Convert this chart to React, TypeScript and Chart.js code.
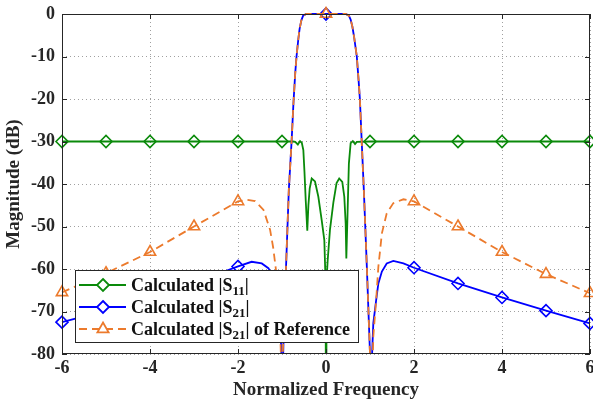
import React, { useEffect, useRef } from "react";
import { Chart, registerables } from "chart.js";
Chart.register(...registerables);

// ---- Data ----
const xTickValues = [-6, -4, -2, 0, 2, 4, 6];
const yTickValues = [-80, -70, -60, -50, -40, -30, -20, -10, 0];

const s11X = [-6, -5, -4, -3, -2, -1, -0.75, -0.7, -0.64, -0.59, -0.55, -0.515, -0.49, -0.46, -0.425, -0.4, -0.37, -0.325, -0.25, -0.174, -0.098, -0.038, -0.01, 0, 0.01, 0.038, 0.09, 0.167, 0.24, 0.3, 0.37, 0.416, 0.447, 0.462, 0.49, 0.52, 0.56, 0.61, 0.66, 0.7, 1, 2, 3, 4, 5, 6];
const s11Y = [-30, -30, -30, -30, -30, -30, -30, -30.1, -30.7, -29.9, -30.3, -32, -37, -44, -51, -45, -41, -38.7, -39.4, -43, -48.5, -53.2, -63, -100, -63, -58, -50.8, -44.4, -39.8, -38.7, -39.5, -43, -49.3, -57.5, -46.9, -35.2, -30.4, -29.9, -30.6, -30.1, -30, -30, -30, -30, -30, -30];

const s21X = [-6, -5, -4, -3, -2, -1.69, -1.46, -1.31, -1.21, -1.14, -1.08, -1.03, -1.0, -0.99, -0.98, -0.955, -0.91, -0.845, -0.78, -0.74, -0.7, -0.67, -0.63, -0.6, -0.56, -0.52, -0.45, -0.3, 0, 0.3, 0.45, 0.52, 0.56, 0.6, 0.64, 0.7, 0.74, 0.77, 0.81, 0.86, 0.93, 0.975, 1.0, 1.02, 1.04, 1.075, 1.14, 1.19, 1.27, 1.38, 1.53, 1.76, 2, 3, 4, 5, 6];
const s21Y = [-72.5, -69.8, -66.7, -63.3, -59.4, -58.3, -58.7, -59.8, -61.5, -64, -68, -75, -85, -100, -85, -72.8, -60, -41.4, -29.6, -21, -14, -10, -6, -3.5, -1.5, -0.4, 0, 0, 0, 0, 0, -0.4, -1.3, -3, -5.5, -10, -15.5, -20, -29.6, -41.4, -60, -72.8, -80, -100, -82, -72.8, -67.3, -63.4, -60.6, -58.7, -58.1, -58.7, -59.7, -63.4, -66.7, -69.8, -72.8];

const refX = [-6, -5, -4, -3, -2, -1.8, -1.61, -1.42, -1.27, -1.2, -1.14, -1.09, -1.05, -1.02, -1.005, -0.99, -0.975, -0.955, -0.91, -0.845, -0.78, -0.74, -0.7, -0.67, -0.63, -0.6, -0.56, -0.52, -0.45, -0.3, 0, 0.3, 0.45, 0.52, 0.56, 0.6, 0.64, 0.7, 0.74, 0.77, 0.81, 0.86, 0.93, 0.975, 1.0, 1.02, 1.04, 1.06, 1.075, 1.14, 1.19, 1.27, 1.38, 1.53, 1.76, 2, 3, 4, 5, 6];
const refY = [-65.5, -61, -56, -50, -44.1, -43.7, -44, -46.1, -50.8, -55, -60, -65, -72, -82, -100, -84, -78, -72.8, -60, -41.4, -29.6, -21, -14, -10, -6, -3.5, -1.5, -0.4, 0, 0, 0, 0, 0, -0.4, -1.3, -3, -5.5, -10, -15.5, -20, -29.6, -41.4, -60, -72.8, -80, -86, -100, -82, -75.9, -67.3, -59.5, -51.6, -46.9, -44.5, -43.6, -44.1, -50, -56, -61.2, -65.7];

const seriesNames = ["Calculated |S", "Calculated |S", "Calculated |S"];
const seriesSubs = ["11", "21", "21"];
const seriesTails = ["|", "|", "| of Reference"];
const xTitle = "Normalized Frequency";
const yTitle = "Magnitude (dB)";

const GREEN = "#0a8a0a";
const BLUE = "#0000ff";
const ORANGE = "#ec7a2c";
const TEXT = "#262626";
const FONT = "'Liberation Serif', 'Times New Roman', serif";

function pts(xs: number[], ys: number[]) {
  return xs.map((x, i) => ({ x, y: ys[i] }));
}

const markerRadius = (r: number) => (ctx: any) => {
  const p = ctx.raw;
  if (!p) return 0;
  return Number.isInteger(p.x) && p.y > -79 ? r : 0;
};

const zeroPad = (s: any) => {
  s.paddingLeft = 0;
  s.paddingRight = 0;
  s.paddingTop = 0;
  s.paddingBottom = 0;
};

const CLIP = { left: 8, right: 8, top: 10, bottom: 0 };

const framePlugin = {
  id: "frame",
  afterDatasetsDraw(chart: any) {
    const { ctx, chartArea: a, scales } = chart;
    ctx.save();
    ctx.strokeStyle = TEXT;
    ctx.lineWidth = 1;
    ctx.setLineDash([]);
    ctx.strokeRect(a.left + 0.5, a.top + 0.5, a.right - a.left - 1, a.bottom - a.top - 1);
    const tl = 5;
    ctx.beginPath();
    xTickValues.forEach((v) => {
      const px = Math.round(scales.x.getPixelForValue(v)) + 0.5;
      ctx.moveTo(px, a.bottom);
      ctx.lineTo(px, a.bottom - tl);
      ctx.moveTo(px, a.top);
      ctx.lineTo(px, a.top + tl);
    });
    yTickValues.forEach((v) => {
      const py = Math.round(scales.y.getPixelForValue(v)) + 0.5;
      ctx.moveTo(a.left, py);
      ctx.lineTo(a.left + tl, py);
      ctx.moveTo(a.right, py);
      ctx.lineTo(a.right - tl, py);
    });
    ctx.stroke();
    ctx.restore();
  },
  afterDraw(chart: any) {
    const { ctx, chartArea: a } = chart;
    ctx.save();
    // axis titles
    ctx.fillStyle = TEXT;
    ctx.font = `bold 19px ${FONT}`;
    ctx.textAlign = "center";
    ctx.textBaseline = "middle";
    ctx.fillText(xTitle, (a.left + a.right) / 2, 390);
    ctx.translate(14, (a.top + a.bottom) / 2);
    ctx.rotate(-Math.PI / 2);
    ctx.fillText(yTitle, 0, 0);
    ctx.restore();

    // legend
    ctx.save();
    const bx = 75, by = 270, bw = 283, bh = 72;
    ctx.fillStyle = "#ffffff";
    ctx.fillRect(bx, by, bw, bh);
    ctx.strokeStyle = TEXT;
    ctx.lineWidth = 1;
    ctx.strokeRect(bx + 0.5, by + 0.5, bw, bh);
    const rows = [285, 307, 329];
    const colors = [GREEN, BLUE, ORANGE];
    rows.forEach((ry, i) => {
      ctx.strokeStyle = colors[i];
      ctx.lineWidth = 2;
      ctx.setLineDash(i === 2 ? [8, 5] : []);
      ctx.beginPath();
      ctx.moveTo(79, ry);
      ctx.lineTo(126, ry);
      ctx.stroke();
      ctx.setLineDash([]);
      ctx.lineWidth = 1.8;
      ctx.beginPath();
      if (i < 2) {
        ctx.moveTo(103, ry - 6);
        ctx.lineTo(109, ry);
        ctx.lineTo(103, ry + 6);
        ctx.lineTo(97, ry);
        ctx.closePath();
        ctx.fillStyle = "#ffffff";
        ctx.fill();
      } else {
        ctx.moveTo(103, ry - 6.5);
        ctx.lineTo(108.6, ry + 3.3);
        ctx.lineTo(97.4, ry + 3.3);
        ctx.closePath();
        ctx.fillStyle = "#ffffff";
        ctx.fill();
      }
      ctx.stroke();
      // text with subscript
      ctx.fillStyle = "#111";
      ctx.textAlign = "left";
      ctx.textBaseline = "alphabetic";
      let tx = 131;
      const base = ry + 6;
      ctx.font = `bold 18px ${FONT}`;
      ctx.fillText(seriesNames[i], tx, base);
      tx += ctx.measureText(seriesNames[i]).width;
      ctx.font = `bold 13px ${FONT}`;
      ctx.fillText(seriesSubs[i], tx, base + 4);
      tx += ctx.measureText(seriesSubs[i]).width;
      ctx.font = `bold 18px ${FONT}`;
      ctx.fillText(seriesTails[i], tx, base);
    });
    ctx.restore();
  },
};

export default function App() {
  const ref = useRef<HTMLCanvasElement | null>(null);
  useEffect(() => {
    if (!ref.current) return;
    const chart = new Chart(ref.current, {
      type: "line",
      data: {
        datasets: [
          {
            label: "S11",
            data: pts(s11X, s11Y),
            borderColor: GREEN,
            backgroundColor: "rgba(0,0,0,0)",
            borderWidth: 1.8,
            pointStyle: "rectRot",
            pointRadius: markerRadius(6),
            pointBorderWidth: 1.6,
            pointBorderColor: GREEN,
            tension: 0,
            clip: CLIP,
            order: 3,
          },
          {
            label: "S21",
            data: pts(s21X, s21Y),
            borderColor: BLUE,
            backgroundColor: "rgba(0,0,0,0)",
            borderWidth: 1.8,
            pointStyle: "rectRot",
            pointRadius: markerRadius(6),
            pointBorderWidth: 1.6,
            pointBorderColor: BLUE,
            tension: 0,
            clip: CLIP,
            order: 2,
          },
          {
            label: "Ref",
            data: pts(refX, refY),
            borderColor: ORANGE,
            backgroundColor: "rgba(0,0,0,0)",
            borderWidth: 1.8,
            borderDash: [8, 5],
            pointStyle: "triangle",
            pointRadius: markerRadius(6.5),
            pointBorderWidth: 1.6,
            pointBorderColor: ORANGE,
            tension: 0,
            clip: CLIP,
            order: 1,
          },
        ],
      },
      options: {
        animation: false,
        responsive: false,
        devicePixelRatio: 1,
        parsing: false,
        normalized: true,
        layout: { padding: { top: 14, right: 3, left: 0, bottom: 0 }, autoPadding: false },
        plugins: { legend: { display: false }, tooltip: { enabled: false } },
        scales: {
          x: {
            type: "linear",
            min: -6,
            max: 6,
            afterBuildTicks: (s: any) => {
              s.ticks = xTickValues.map((v) => ({ value: v }));
            },
            afterFit: (s: any) => {
              s.height = 51;
              zeroPad(s);
            },
            ticks: {
              color: TEXT,
              font: { family: FONT, size: 18, weight: "bold" },
              padding: 4,
              maxRotation: 0,
            },
            grid: { color: "#a0a0a0", lineWidth: 1, drawTicks: false },
            border: { display: false, dash: [1, 3] },
          },
          y: {
            type: "linear",
            min: -80,
            max: 0,
            afterBuildTicks: (s: any) => {
              s.ticks = yTickValues.map((v) => ({ value: v }));
            },
            afterFit: (s: any) => {
              s.width = 62;
              zeroPad(s);
            },
            ticks: {
              color: TEXT,
              font: { family: FONT, size: 18, weight: "bold" },
              padding: 7,
            },
            grid: { color: "#a0a0a0", lineWidth: 1, drawTicks: false },
            border: { display: false, dash: [1, 3] },
          },
        },
      },
      plugins: [framePlugin],
    });
    return () => chart.destroy();
  }, []);
  return (
    <div style={{ position: "absolute", left: 0, top: 0, width: 593, height: 405 }}>
      <canvas ref={ref} width={593} height={405} style={{ width: 593, height: 405, display: "block" }} />
    </div>
  );
}
